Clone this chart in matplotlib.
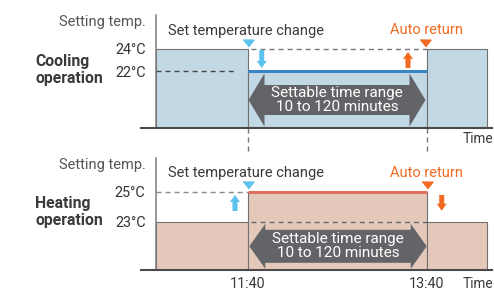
import matplotlib
matplotlib.use("Agg")
import matplotlib.pyplot as plt
import numpy as np
from matplotlib.patches import FancyArrow

plt.rcParams['font.family'] = ['Roboto', 'DejaVu Sans']

# ---------------- data ----------------
time_edges = [638, 700, 820, 860]          # minutes after midnight (segment edges)
tick_times = [700, 820]
tick_labels = ["11:40", "13:40"]
cool_temps = [24, 22, 24]                  # setting temp per segment (cooling)
heat_temps = [23, 25, 23]                  # setting temp per segment (heating)
cool_ticks = [22, 24]
cool_tick_labels = ["22°C", "24°C"]
heat_ticks = [23, 25]
heat_tick_labels = ["23°C", "25°C"]

# ---------------- style ----------------
W, H = 494, 291
TXT = '#3a3a3a'
GREY_TXT = '#555555'
ORANGE = '#f26a22'
LBLUE = '#5cc3ef'
ARROW_GREY = '#636467'
OUTLINE = '#707070'
AXIS = '#4a4a4a'

fig = plt.figure(figsize=(W / 100, H / 100), dpi=100)

PPM = (427 - 248) / (tick_times[1] - tick_times[0])   # px per minute


def x_of_px(px):
    return tick_times[0] + (px - 248) / PPM


def make_ax(top_px, bot_px, t_hi, y_hi_px, t_lo, y_lo_px):
    ax = fig.add_axes([141 / W, 1 - bot_px / H, (492 - 141) / W, (bot_px - top_px) / H])
    ax.set_xlim(x_of_px(141), x_of_px(492))
    ppd = (y_lo_px - y_hi_px) / (t_hi - t_lo)
    ax.set_ylim(t_lo - (bot_px - y_lo_px) / ppd, t_hi + (y_hi_px - top_px) / ppd)
    ax.patch.set_alpha(0)
    def y_of_px(py):
        return ax.get_ylim()[1] - (py - top_px) / ppd
    return ax, ppd, y_of_px


def style_axis(ax, yticks, ylabels, show_x):
    for s in ('top', 'right'):
        ax.spines[s].set_visible(False)
    ax.spines['left'].set_position(('data', time_edges[0]))
    ax.spines['left'].set_color('#7d7d7d')
    ax.spines['left'].set_linewidth(1.1)
    ax.spines['bottom'].set_color(AXIS)
    ax.spines['bottom'].set_linewidth(1.5)
    ax.set_yticks(yticks)
    ax.set_yticklabels(ylabels)
    ax.tick_params(axis='y', length=0, pad=7.2, labelsize=10.4, labelcolor='#333333')
    ax.tick_params(axis='x', length=0, pad=4.8, labelsize=10.4, labelcolor=TXT)
    if show_x:
        ax.set_xticks(tick_times)
        ax.set_xticklabels(tick_labels)
    else:
        ax.set_xticks([])
    for sp in ax.spines.values():
        sp.set_zorder(6)


def draw_panel(ax, temps, fill, line_color):
    base = ax.get_ylim()[0]
    lefts = time_edges[:-1]
    widths = np.diff(time_edges)
    ax.bar(lefts, np.array(temps) - base, width=widths, bottom=base, align='edge',
           color=fill, edgecolor=OUTLINE, linewidth=0.8, zorder=1)
    ax.plot([time_edges[1], time_edges[2]], [temps[1], temps[1]], color=line_color,
            lw=2.2, solid_capstyle='butt', zorder=3)
    return base


def double_arrow(ax, ppd, x0, x1, yc, shaft_px, head_px, head_len_px):
    mid = (x0 + x1) / 2
    for tip in (x0, x1):
        ax.add_patch(FancyArrow(mid, yc, tip - mid, 0, width=shaft_px / ppd,
                                head_width=head_px / ppd, head_length=head_len_px / PPM,
                                length_includes_head=True, color=ARROW_GREY, lw=0, zorder=4))
    ax.text(mid, yc, "Settable time range\n10 to 120 minutes", ha='center', va='center',
            color='white', fontsize=11, linespacing=1.0, zorder=5)


def small_arrow(ax, x, y_tail, y_tip, color):
    ax.annotate("", xy=(x, y_tip), xytext=(x, y_tail),
                arrowprops=dict(arrowstyle="simple,head_length=0.7,head_width=1.0,tail_width=0.5",
                                mutation_scale=7.2, fc=color, ec='none',
                                shrinkA=0, shrinkB=0), zorder=5, annotation_clip=False)


TRI = [(-1, 0.62), (1, 0.62), (0, -0.62)]
DASH = (3.6, 2.9)

# ---------------- top : cooling ----------------
ax1, ppd1, yp1 = make_ax(15, 127.7, cool_temps[0], 49, cool_temps[1], 71.3)
style_axis(ax1, cool_ticks, cool_tick_labels, show_x=False)
draw_panel(ax1, cool_temps, '#c2d9e5', '#3a86c5')
ax1.plot([time_edges[0], x_of_px(237)], [cool_temps[1]] * 2, color='#444444', lw=1.0,
         dashes=DASH, zorder=2)
ax1.plot([time_edges[1] + 2, time_edges[2]], [cool_temps[0]] * 2, color='#777777', lw=1.0,
         dashes=DASH, zorder=2)
for t in tick_times:
    ax1.plot([t, t], [ax1.get_ylim()[0], yp1(154)], color='#777777', lw=1.0,
             dashes=DASH, clip_on=False, zorder=2)
ax1.plot([time_edges[1]], [yp1(42.7)], marker=TRI, ms=7.9, color=LBLUE, ls='none',
         clip_on=False, zorder=5)
ax1.plot([x_of_px(425.3)], [yp1(42.7)], marker=TRI, ms=7.9, color=ORANGE, ls='none',
         clip_on=False, zorder=5)
small_arrow(ax1, x_of_px(261.7), yp1(50), yp1(68), LBLUE)
small_arrow(ax1, x_of_px(408), yp1(68), yp1(52), ORANGE)
double_arrow(ax1, ppd1, x_of_px(248.5), x_of_px(425.5), yp1(100), 30, 53, 16)

# ---------------- bottom : heating ----------------
ax2, ppd2, yp2 = make_ax(157.7, 270, heat_temps[1], 191.7, heat_temps[0], 221.7)
style_axis(ax2, heat_ticks, heat_tick_labels, show_x=True)
draw_panel(ax2, heat_temps, '#e4c9bb', '#e0705e')
ax2.plot([time_edges[0], time_edges[1]], [heat_temps[1]] * 2, color='#888888', lw=1.0,
         dashes=DASH, zorder=2)
ax2.plot([time_edges[1] + 2, time_edges[2]], [heat_temps[0]] * 2, color='#666666', lw=1.0,
         dashes=DASH, zorder=2)
ax2.plot([time_edges[1]], [yp2(185)], marker=TRI, ms=7.9, color=LBLUE, ls='none',
         clip_on=False, zorder=5)
ax2.plot([time_edges[2]], [yp2(185)], marker=TRI, ms=7.9, color=ORANGE, ls='none',
         clip_on=False, zorder=5)
small_arrow(ax2, x_of_px(235), yp2(211), yp2(195), LBLUE)
small_arrow(ax2, x_of_px(441.7), yp2(195), yp2(210.7), ORANGE)
double_arrow(ax2, ppd2, x_of_px(249.3), x_of_px(426.7), yp2(246.3), 33, 45, 16)

# ---------------- texts ----------------
def ftext(x, y, s, **kw):
    fig.text(x / W, 1 - y / H, s, va='baseline', **kw)

FS = 10.5
for off in (0, 142.7):
    ftext(146, 26 + off, "Setting temp.", ha='right', fontsize=FS, color=GREY_TXT)
    ftext(168, 34.7 + off, "Set temperature change", ha='left', fontsize=FS, color=TXT)
    ftext(463, 34.5 + off, "Auto return", ha='right', fontsize=FS, color=ORANGE)

ftext(35, 66, "Cooling", ha='left', fontsize=11.3, fontweight='bold', color=TXT)
ftext(35, 82.5, "operation", ha='left', fontsize=11.3, fontweight='bold', color=TXT)
ftext(35, 208.3, "Heating", ha='left', fontsize=11.3, fontweight='bold', color=TXT)
ftext(35, 225, "operation", ha='left', fontsize=11.3, fontweight='bold', color=TXT)
ftext(463, 143.3, "Time", ha='left', fontsize=9.8, color=TXT)
ftext(463, 288.3, "Time", ha='left', fontsize=9.8, color=TXT)

fig.savefig("out.png", dpi=100)
